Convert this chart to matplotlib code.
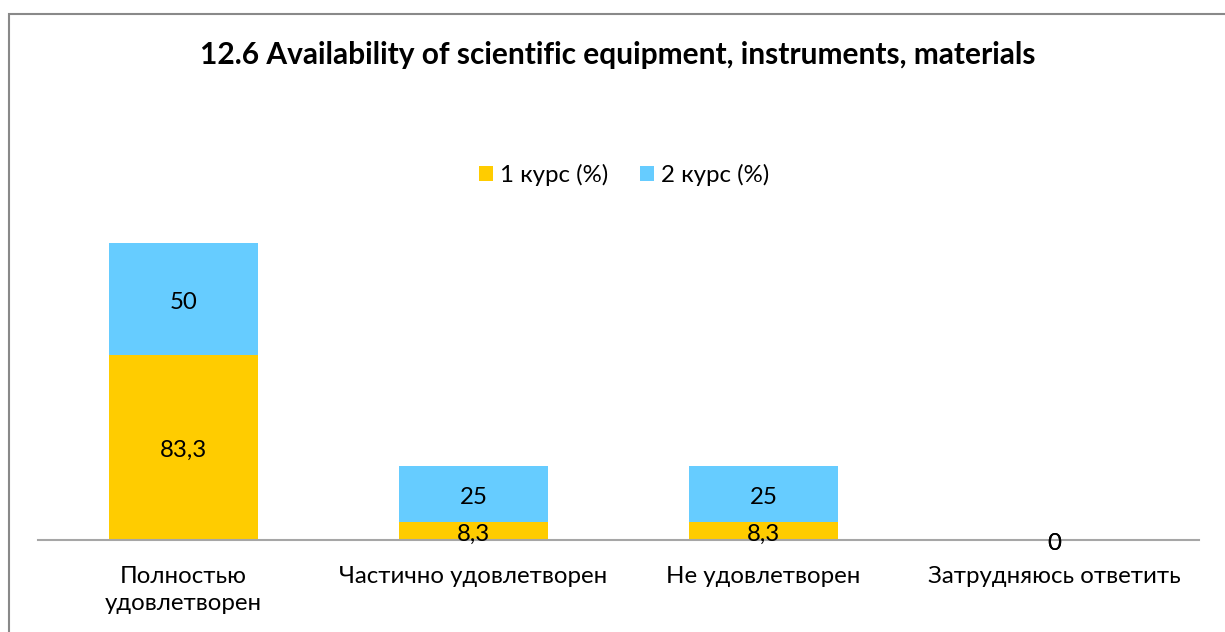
import matplotlib
matplotlib.use("Agg")
import matplotlib.pyplot as plt
from matplotlib.patches import Rectangle
import numpy as np

categories = ["Полностью\nудовлетворен", "Частично удовлетворен", "Не удовлетворен", "Затрудняюсь ответить"]
series_names = ["1 курс (%)", "2 курс (%)"]
course1 = [83.3, 8.3, 8.3, 0]
course2 = [50, 25, 25, 0]
colors = ["#FFCC00", "#66CCFF"]
title = "12.6 Availability of scientific equipment, instruments, materials"

plt.rcParams['font.family'] = ['Lato', 'DejaVu Sans']

W, H = 1225, 632
fig = plt.figure(figsize=(W / 100, H / 100), dpi=100)
fig.patch.set_facecolor("white")

# chart border
fig.add_artist(Rectangle((8.5 / W, -0.05), 1.2, 1 - 13.5 / H + 0.05, transform=fig.transFigure,
                         fill=False, edgecolor="#898989", linewidth=1.5))

ax = fig.add_axes([38 / W, 1 - 540 / H, (1199 - 38) / W, 334 / H])
x = np.arange(len(categories))
bw = 0.513
b1 = ax.bar(x, course1, bw, color=colors[0], label=series_names[0])
b2 = ax.bar(x, course2, bw, bottom=course1, color=colors[1], label=series_names[1])

def fmt(v):
    return ("%g" % v).replace(".", ",")

fs = 17.3
for i in range(len(categories)):
    ax.annotate(fmt(course1[i]), (x[i], course1[i] / 2), xytext=(0, -2.5), textcoords="offset points",
                ha="center", va="center", fontsize=fs, color="black")
    ax.annotate(fmt(course2[i]), (x[i], course1[i] + course2[i] / 2), xytext=(0, -2.5), textcoords="offset points",
                ha="center", va="center", fontsize=fs, color="black")

ax.set_xlim(-0.5, len(categories) - 0.5)
ax.set_ylim(0, 150)
ax.set_yticks([])
ax.set_xticks(x)
ax.set_xticklabels(categories, fontsize=fs, linespacing=1.35)
ax.tick_params(axis="x", length=0, pad=19)
for s in ["top", "right", "left"]:
    ax.spines[s].set_visible(False)
ax.spines["bottom"].set_color("#A6A6A6")
ax.spines["bottom"].set_linewidth(1.5)
ax.set_zorder(1)

fig.text(618 / W, 1 - 55 / H, title, ha="center", va="center", fontsize=21.5, fontweight="bold")

fig.legend(handles=[b1, b2], labels=series_names, loc="center", bbox_to_anchor=(624 / W, 1 - 175 / H),
           ncol=2, frameon=False, fontsize=fs, handlelength=0.6, handleheight=0.6,
           handletextpad=0.3, columnspacing=1.3)

fig.savefig("out.png", dpi=100)
